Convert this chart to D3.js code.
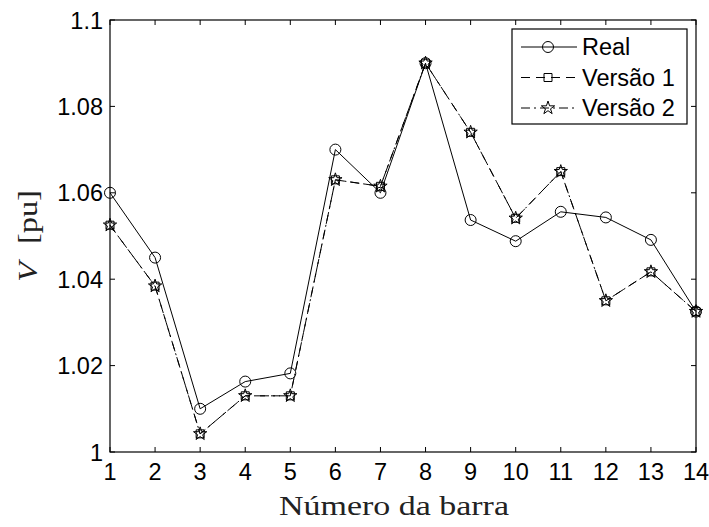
<!DOCTYPE html>
<html>
<head>
<meta charset="utf-8">
<script src="https://cdn.jsdelivr.net/npm/d3@7"></script>
<style>
  html, body { margin: 0; padding: 0; background: #fff; }
  svg { display: block; }
</style>
</head>
<body>
<svg id="chart" width="709" height="527"></svg>
<script>
// Bus numbers and voltage magnitudes (pu)
const barras = [1, 2, 3, 4, 5, 6, 7, 8, 9, 10, 11, 12, 13, 14];
const vReal = [1.060, 1.045, 1.010, 1.0163, 1.0182, 1.070, 1.060, 1.090, 1.0537, 1.0488, 1.0556, 1.0543, 1.0491, 1.0325];
const vVersao1 = [1.0525, 1.0384, 1.0042, 1.0130, 1.0130, 1.0630, 1.0615, 1.090, 1.0740, 1.0541, 1.0649, 1.0350, 1.0417, 1.0325];
const vVersao2 = [1.0525, 1.0384, 1.0042, 1.0130, 1.0130, 1.0630, 1.0615, 1.090, 1.0740, 1.0541, 1.0649, 1.0350, 1.0417, 1.0325];
const yTicks = [1, 1.02, 1.04, 1.06, 1.08, 1.1];
const yTickLabels = ["1", "1.02", "1.04", "1.06", "1.08", "1.1"];
const seriesNames = ["Real", "Versão 1", "Versão 2"];

const svg = d3.select("#chart");
const plotL = 110, plotR = 696, plotT = 20, plotB = 452;

const x = d3.scaleLinear().domain([1, 14]).range([plotL, plotR]);
const y = d3.scaleLinear().domain([1, 1.1]).range([plotB, plotT]);

const font = "'Liberation Sans', Arial, Helvetica, sans-serif";
const serif = "'Liberation Serif', 'DejaVu Serif', serif";
const tickFont = 23.5;

// Frame
svg.append("rect")
  .attr("x", plotL).attr("y", plotT)
  .attr("width", plotR - plotL).attr("height", plotB - plotT)
  .attr("fill", "none").attr("stroke", "#000").attr("stroke-width", 1.2);

const tickLen = 5;
// Inward ticks on all four sides
const gx = svg.append("g");
barras.forEach(b => {
  const px = x(b);
  gx.append("line").attr("x1", px).attr("x2", px).attr("y1", plotB).attr("y2", plotB - tickLen)
    .attr("stroke", "#000").attr("stroke-width", 1);
  gx.append("line").attr("x1", px).attr("x2", px).attr("y1", plotT).attr("y2", plotT + tickLen)
    .attr("stroke", "#000").attr("stroke-width", 1);
  gx.append("text").attr("x", px).attr("y", 480)
    .attr("text-anchor", "middle").attr("font-family", font).attr("font-size", tickFont)
    .text(b);
});
yTicks.forEach((t, i) => {
  const py = y(t);
  gx.append("line").attr("x1", plotL).attr("x2", plotL + tickLen).attr("y1", py).attr("y2", py)
    .attr("stroke", "#000").attr("stroke-width", 1);
  gx.append("line").attr("x1", plotR).attr("x2", plotR - tickLen).attr("y1", py).attr("y2", py)
    .attr("stroke", "#000").attr("stroke-width", 1);
  gx.append("text").attr("x", 103).attr("y", py + 8.5)
    .attr("text-anchor", "end").attr("font-family", font).attr("font-size", tickFont)
    .text(yTickLabels[i]);
});

// Axis titles
svg.append("text").attr("x", 394).attr("y", 515)
  .attr("text-anchor", "middle").attr("font-family", serif).attr("font-size", 28)
  .attr("fill", "#222")
  .attr("textLength", 230).attr("lengthAdjust", "spacingAndGlyphs")
  .text("Número da barra");
const yl = svg.append("text")
  .attr("transform", "translate(37,236) rotate(-90) scale(1.2,1)")
  .attr("text-anchor", "middle").attr("font-family", serif).attr("font-size", 27)
  .attr("fill", "#222");
yl.append("tspan").attr("font-style", "italic").text("V");
yl.append("tspan").attr("dx", 15).text("[pu]");

// Series definitions
const series = [
  { name: seriesNames[0], values: vReal, dash: null, marker: "circle" },
  { name: seriesNames[1], values: vVersao1, dash: "9,6", marker: "square" },
  { name: seriesNames[2], values: vVersao2, dash: "9,4,2,4", marker: "star" }
];

const line = d3.line().x((d, i) => x(barras[i])).y(d => y(d));

function drawMarker(g, kind, cx, cy) {
  if (kind === "circle") {
    g.append("circle").attr("cx", cx).attr("cy", cy).attr("r", 5.5)
      .attr("fill", "none").attr("stroke", "#000").attr("stroke-width", 1);
  } else if (kind === "square") {
    g.append("path").attr("d", d3.symbol(d3.symbolSquare, 64)())
      .attr("transform", `translate(${cx},${cy})`)
      .attr("fill", "none").attr("stroke", "#000").attr("stroke-width", 1);
  } else {
    g.append("path").attr("d", d3.symbol(d3.symbolStar, 55)())
      .attr("transform", `translate(${cx},${cy})`)
      .attr("fill", "none").attr("stroke", "#000").attr("stroke-width", 1);
  }
}

series.forEach(s => {
  const g = svg.append("g");
  g.append("path").datum(s.values).attr("d", line)
    .attr("fill", "none").attr("stroke", "#000").attr("stroke-width", 1)
    .attr("stroke-dasharray", s.dash);
  s.values.forEach((v, i) => drawMarker(g, s.marker, x(barras[i]), y(v)));
});

// Legend
const lg = svg.append("g");
lg.append("rect").attr("x", 512).attr("y", 29).attr("width", 175).attr("height", 95)
  .attr("fill", "#fff").attr("stroke", "#000").attr("stroke-width", 1.2);
series.forEach((s, i) => {
  const cy = 47 + i * 30.5;
  lg.append("line").attr("x1", 521).attr("x2", 577).attr("y1", cy).attr("y2", cy)
    .attr("stroke", "#000").attr("stroke-width", 1).attr("stroke-dasharray", s.dash);
  drawMarker(lg, s.marker, 548, cy);
  lg.append("text").attr("x", 582).attr("y", cy + 8.3)
    .attr("font-family", font).attr("font-size", tickFont).text(s.name);
});
</script>
</body>
</html>
